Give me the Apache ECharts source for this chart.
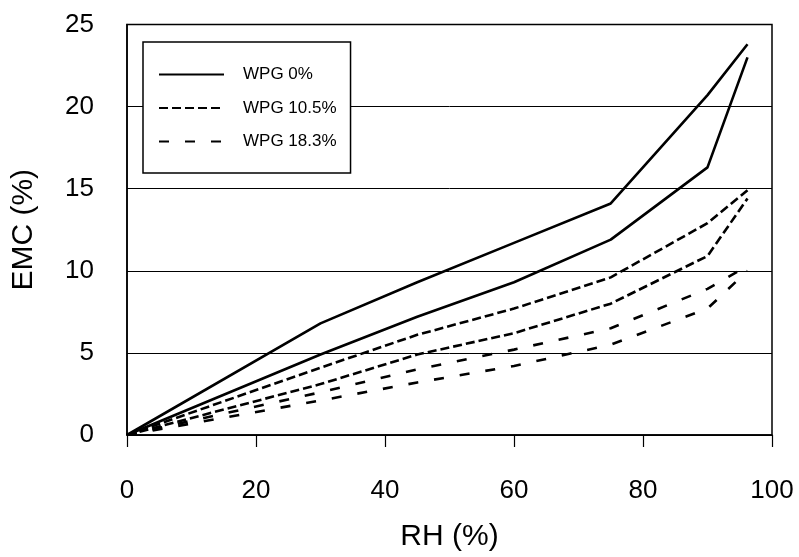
<!DOCTYPE html>
<html>
<head>
<meta charset="utf-8">
<script src="https://cdn.jsdelivr.net/npm/echarts@6/dist/echarts.min.js"></script>
<style>
  html, body { margin: 0; padding: 0; background: #fff; }
  #chart { width: 799px; height: 557px; }
</style>
</head>
<body>
<div id="chart"></div>
<script>
// Relative humidity (%) at which EMC was measured
const rhPoints = [0, 30, 45, 60, 75, 90, 96.2];

// Equilibrium moisture content (%) — desorption (upper) and adsorption (lower) branches
const wpg0Desorption   = [0, 6.8, 9.3, 11.7, 14.1, 20.7, 23.8];
const wpg0Adsorption   = [0, 4.9, 7.2, 9.3, 11.9, 16.3, 23.0];
const wpg105Desorption = [0, 4.1, 6.1, 7.7, 9.6, 12.9, 14.9];
const wpg105Adsorption = [0, 3.1, 4.9, 6.2, 8.0, 10.9, 14.4];
const wpg183Desorption = [0, 2.6, 4.0, 5.2, 6.5, 8.9, 10.3];
const wpg183Adsorption = [0, 2.1, 3.2, 4.2, 5.5, 7.7, 10.0];

const groupNames = ['WPG 0%', 'WPG 10.5%', 'WPG 18.3%'];
const xTicks = [0, 20, 40, 60, 80, 100];
const yTicks = [0, 5, 10, 15, 20, 25];

const pair = (ys) => rhPoints.map((x, i) => [x, ys[i]]);

const dashStyles = ['solid', [9, 4], [10, 16]];

function curve(name, ys, styleIdx) {
  return {
    name: name,
    type: 'line',
    data: pair(ys),
    symbol: 'none',
    showSymbol: false,
    animation: false,
    lineStyle: { color: '#000', width: 2.6, type: dashStyles[styleIdx], cap: 'butt' },
    itemStyle: { color: '#000' }
  };
}

const chart = echarts.init(document.getElementById('chart'), null, { renderer: 'canvas' });

const labelFont = '"Liberation Sans", Arial, sans-serif';

chart.setOption({
  backgroundColor: '#fff',
  animation: false,
  grid: {
    left: 127, right: 27, top: 24.5, bottom: 117,
    show: true, borderColor: '#000', borderWidth: 1.5, backgroundColor: 'transparent'
  },
  legend: {
    data: groupNames,
    orient: 'vertical',
    left: 143, top: 42,
    itemWidth: 65, itemHeight: 14, itemGap: 16.5,
    padding: [24, 14, 23, 15],
    backgroundColor: '#fff',
    borderColor: '#000', borderWidth: 1.5,
    itemStyle: { opacity: 0 },
    textStyle: { fontFamily: labelFont, fontSize: 17, color: '#000', padding: [0, 0, 0, 14] },
    selectedMode: false
  },
  xAxis: {
    type: 'value', min: 0, max: 100, interval: 20,
    name: 'RH (%)', nameLocation: 'middle', nameGap: 87,
    nameTextStyle: { fontFamily: labelFont, fontSize: 30, color: '#000' },
    axisLine: { show: true, onZero: false, lineStyle: { color: '#000', width: 1.5 } },
    axisTick: { show: true, inside: false, length: 12, lineStyle: { color: '#000', width: 1.2 } },
    axisLabel: {
      fontFamily: labelFont, fontSize: 26, color: '#000', margin: 43,
      formatter: (v) => (xTicks.includes(v) ? String(v) : '')
    },
    splitLine: { show: false }
  },
  yAxis: {
    type: 'value', min: 0, max: 25, interval: 5,
    name: 'EMC (%)', nameLocation: 'middle', nameGap: 88, nameRotate: 90,
    nameTextStyle: { fontFamily: labelFont, fontSize: 30, color: '#000' },
    axisLine: { show: true, onZero: false, lineStyle: { color: '#000', width: 1.5 } },
    axisTick: { show: false },
    axisLabel: {
      fontFamily: labelFont, fontSize: 26, color: '#000', margin: 33,
      formatter: (v) => (yTicks.includes(v) ? String(v) : '')
    },
    splitLine: { show: true, lineStyle: { color: '#000', width: 1 } }
  },
  series: [
    curve(groupNames[0], wpg0Desorption, 0),
    curve(groupNames[0], wpg0Adsorption, 0),
    curve(groupNames[1], wpg105Desorption, 1),
    curve(groupNames[1], wpg105Adsorption, 1),
    curve(groupNames[2], wpg183Desorption, 2),
    curve(groupNames[2], wpg183Adsorption, 2)
  ]
});
</script>
</body>
</html>
